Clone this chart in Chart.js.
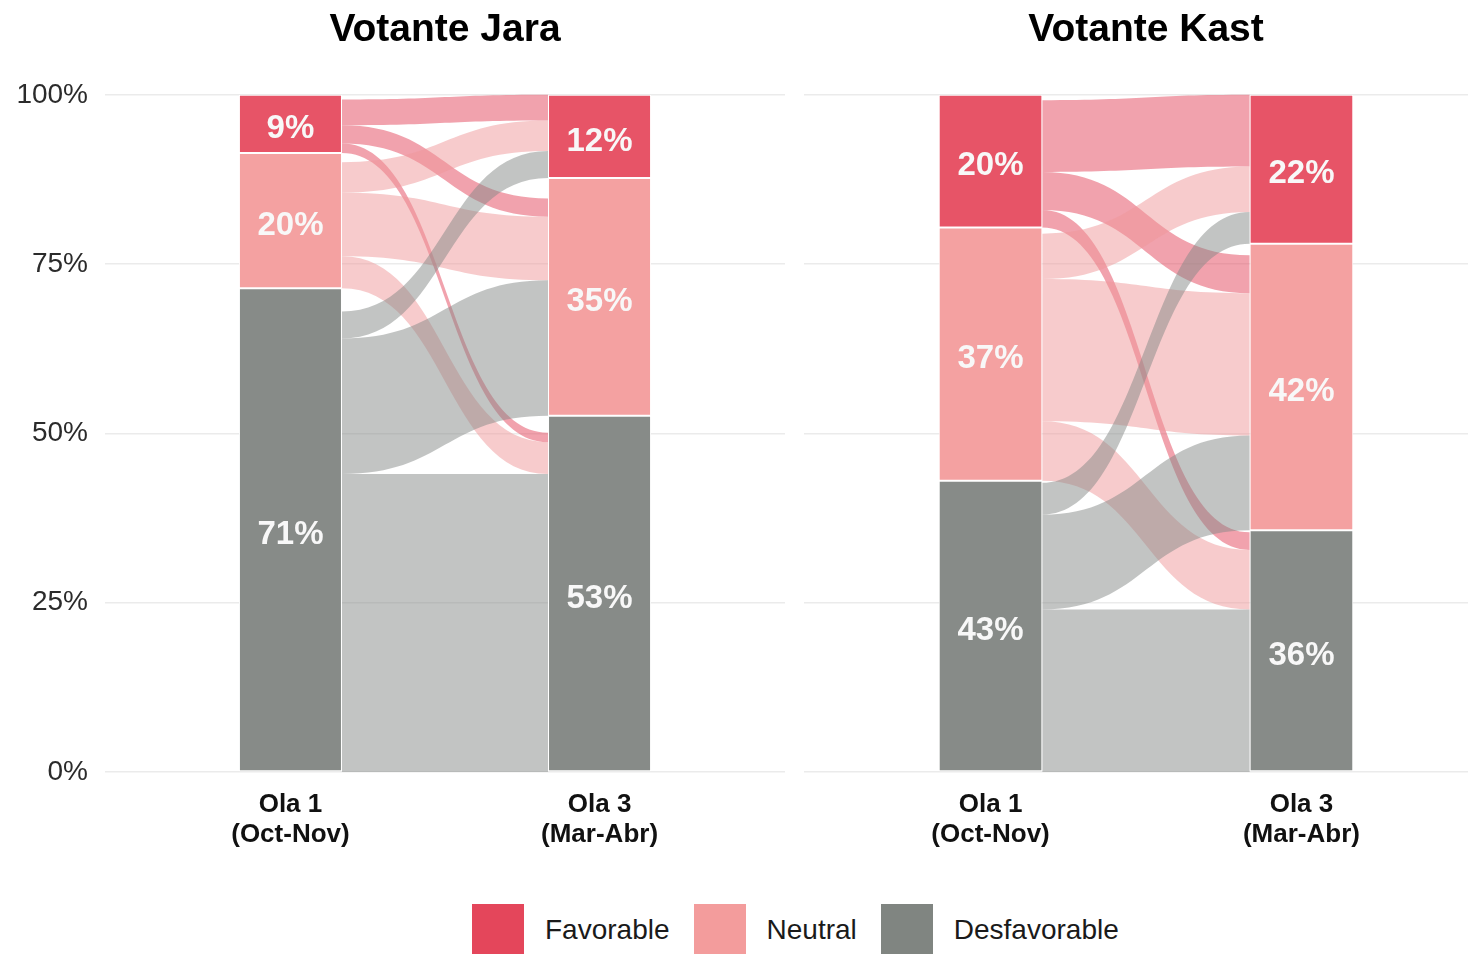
<!DOCTYPE html>
<html>
<head>
<meta charset="utf-8">
<script src="https://cdn.jsdelivr.net/npm/chart.js@4"></script>
<style>
  body { margin: 0; background: #fff; width: 1468px; height: 954px; overflow: hidden; position: relative;
         font-family: "Liberation Sans", Arial, sans-serif; }
  #jara { position: absolute; left: 0; top: 0; }
  #kast { position: absolute; left: 804px; top: 0; }
  .key { position: absolute; top: 904px; left: 472px; display: flex; align-items: center; height: 52px; }
  .key span.sw { width: 52px; height: 52px; display: inline-block; margin-right: 21px; }
  .key span.tx { font-size: 28px; color: #1a1a1a; margin-right: 24px; }
</style>
</head>
<body>
<canvas id="jara" width="785" height="860"></canvas>
<canvas id="kast" width="684" height="860"></canvas>
<div class="key" id="key"></div>
<script>
// ---------- data ----------
const waves = [['Ola 1', '(Oct-Nov)'], ['Ola 3', '(Mar-Abr)']];
const waveX = [1, 2];
const categories = ['Favorable', 'Neutral', 'Desfavorable'];
const yTicks = [0, 25, 50, 75, 100];

// strata (% at Ola 1, Ola 3)
const jaraFav = [8.6, 12.3];
const jaraNeu = [19.95, 35.1];
const jaraDes = [71.45, 52.6];
const kastFav = [19.6, 22.0];
const kastNeu = [37.4, 42.3];
const kastDes = [43.0, 35.7];

// flows: rows = from (Fav, Neu, Des) at Ola 1, cols = to (Fav, Neu, Des) at Ola 3
const jaraFlows = [[3.8, 2.7, 1.4], [4.5, 9.4, 4.7], [4.0, 20.0, 44.0]];
const kastFlows = [[10.6, 5.6, 2.6], [6.7, 21.0, 8.8], [4.7, 14.0, 24.0]];

// ---------- styles ----------
const FONT = '"Liberation Sans", Arial, sans-serif';
const barColors = ['#E75467', '#F4A1A1', '#878B88'];
const keyColors = ['#E4465B', '#F39C9C', '#808581'];
const flowColors = ['rgba(228,70,91,0.5)', 'rgba(240,152,154,0.5)', 'rgba(133,137,135,0.5)'];

// ============ alluvial flows =============
const flowPlugin = {
  id: 'flows',
  beforeDatasetsDraw(chart, args, opts) {
    const m = opts.matrix, strata = opts.strata;
    const ys = chart.scales.y;
    const meta = chart.getDatasetMeta(0);
    const b0 = meta.data[0], b1 = meta.data[1];
    const x0 = b0.x + b0.width / 2, x1 = b1.x - b1.width / 2;
    const xm = (x0 + x1) / 2;

    // left side: start each stratum below its (hidden) gap
    const curL = [];
    let top = 100;
    for (let i = 0; i < 3; i++) {
      const used = m[i].reduce((a, b) => a + b, 0);
      curL[i] = top - Math.max(0, strata[i][0] - used);
      top -= strata[i][0];
    }
    top = 100;
    const rTop = [[], [], []];
    for (let j = 0; j < 3; j++) {
      const used = m[0][j] + m[1][j] + m[2][j];
      let c = top - Math.max(0, strata[j][1] - used);
      for (let i = 0; i < 3; i++) { rTop[i][j] = c; c -= m[i][j]; }
      top -= strata[j][1];
    }

    const ctx = chart.ctx;
    ctx.save();
    for (let i = 0; i < 3; i++) {
      for (let j = 0; j < 3; j++) {
        const v = m[i][j];
        const lA = ys.getPixelForValue(curL[i]), lB = ys.getPixelForValue(curL[i] - v);
        const rA = ys.getPixelForValue(rTop[i][j]), rB = ys.getPixelForValue(rTop[i][j] - v);
        curL[i] -= v;
        ctx.beginPath();
        ctx.moveTo(x0, lA);
        ctx.bezierCurveTo(xm, lA, xm, rA, x1, rA);
        ctx.lineTo(x1, rB);
        ctx.bezierCurveTo(xm, rB, xm, lB, x0, lB);
        ctx.closePath();
        ctx.fillStyle = flowColors[i];
        ctx.fill();
      }
    }
    ctx.restore();
  }
};

// ============ % labels on strata =============
const labelPlugin = {
  id: 'stratumLabels',
  afterDatasetsDraw(chart) {
    const ctx = chart.ctx;
    ctx.save();
    ctx.font = 'bold 33px ' + FONT;
    ctx.fillStyle = '#F8F8F8';
    ctx.textAlign = 'center';
    ctx.textBaseline = 'middle';
    chart.data.datasets.forEach((ds, k) => {
      chart.getDatasetMeta(k).data.forEach((el, w) => {
        ctx.fillText(Math.round(ds.data[w].y) + '%', el.x, (el.y + el.base) / 2 + 5);
      });
    });
    ctx.restore();
  }
};

function makePanel(id, title, fav, neu, des, flows, showY) {
  const series = [des, neu, fav];     // bottom to top
  const cols = [2, 1, 0];
  return new Chart(document.getElementById(id), {
    type: 'bar',
    data: {
      datasets: series.map((vals, k) => ({
        label: categories[cols[k]],
        data: waveX.map((x, w) => ({ x: x, y: vals[w] })),
        backgroundColor: barColors[cols[k]],
        borderColor: '#ffffff',
        borderWidth: 1,
        borderSkipped: false,
        categoryPercentage: 1 / 3,
        barPercentage: 1
      }))
    },
    options: {
      responsive: false,
      animation: false,
      layout: { padding: 0 },
      plugins: {
        legend: { display: false },
        tooltip: { enabled: false },
        title: {
          display: true, text: title, fullSize: false, color: '#000',
          font: { family: FONT, size: 39, weight: 'bold', lineHeight: 1.2 },
          padding: { top: 7, bottom: 41 }
        },
        flows: { matrix: flows, strata: [fav, neu, des] }
      },
      scales: {
        x: {
          type: 'linear', min: 0.4, max: 2.6, stacked: true, offset: false,
          afterBuildTicks: s => { s.ticks = waveX.map(v => ({ value: v })); },
          afterFit: s => { s.height = 88; },
          grid: { display: false, offset: false },
          border: { display: false },
          ticks: {
            callback: v => waves[waveX.indexOf(v)],
            font: { family: FONT, size: 26, weight: 'bold', lineHeight: 1.15 },
            color: '#111', padding: 10, maxRotation: 0, autoSkip: false
          }
        },
        y: {
          min: 0, max: 100, stacked: true,
          afterBuildTicks: s => { s.ticks = yTicks.map(v => ({ value: v })); },
          afterFit: s => { s.width = showY ? 105 : 0; },
          grid: { color: '#EBEBEB', lineWidth: 1.5, drawTicks: false },
          border: { display: false },
          ticks: {
            display: showY, padding: 17, callback: v => v + '%',
            font: { family: FONT, size: 28 }, color: '#2b2b2b'
          }
        }
      }
    },
    plugins: [flowPlugin, labelPlugin]
  });
}

makePanel('jara', 'Votante Jara', jaraFav, jaraNeu, jaraDes, jaraFlows, true);
makePanel('kast', 'Votante Kast', kastFav, kastNeu, kastDes, kastFlows, false);

// ---- legend ----
const key = document.getElementById('key');
categories.forEach((c, i) => {
  key.insertAdjacentHTML('beforeend',
    '<span class="sw" style="background:' + keyColors[i] + '"></span><span class="tx">' + c + '</span>');
});
</script>
</body>
</html>
